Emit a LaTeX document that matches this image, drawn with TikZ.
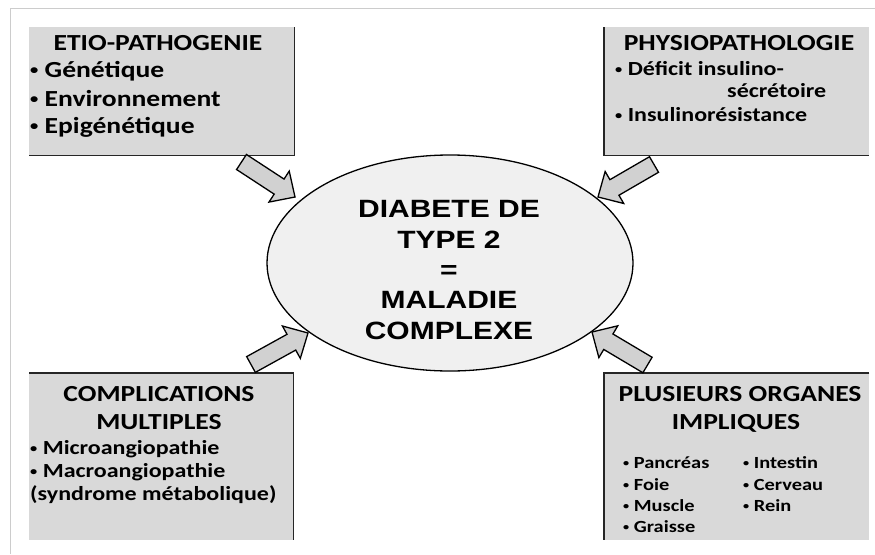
\documentclass[tikz,border=0pt]{standalone}
\usepackage{fontspec}
\setmainfont{Carlito}[FakeStretch=1.2]
\newfontfamily\ellfont{Liberation Sans}[FakeStretch=1.2]
\usetikzlibrary{calc,shapes.geometric}
\definecolor{boxgray}{gray}{0.85}
\definecolor{ellgray}{gray}{0.94}
\definecolor{arrgray}{gray}{0.82}
\definecolor{edgecol}{gray}{0.15}
\definecolor{framecol}{gray}{0.80}
\newcommand{\bul}{\raisebox{0.1em}{\scalebox{0.6}{\textbullet}}}
\tikzset{
  boxfill/.style={rectangle, fill=boxgray, draw=none, inner sep=0pt, anchor=north west},
  edge/.style={draw=edgecol, line width=1.6pt},
  arrowshape/.style={draw=black, fill=arrgray, line width=1.3pt, line join=miter},
  ttl/.style={font=\bfseries\fontsize{23}{28}\selectfont, anchor=base, inner sep=0pt},
  itm/.style={font=\bfseries\fontsize{#1}{24}\selectfont, anchor=base west, inner sep=0pt},
  itm/.default=20,
  ell/.style={font=\ellfont\bfseries\fontsize{25}{30}\selectfont, anchor=base, inner sep=0pt},
}
\newcommand{\blockarr}[3]{%
  \coordinate (#3) at ($(#2)!19pt!(#1)$);
  \draw[arrowshape] ($(#1)!9pt!90:(#2)$) -- ($(#3)!9pt!90:(#2)$) -- ($(#3)!18.5pt!90:(#2)$)
    -- (#2) -- ($(#3)!18.5pt!-90:(#2)$) -- ($(#3)!9pt!-90:(#2)$) -- ($(#1)!9pt!-90:(#2)$) -- cycle;
}
\begin{document}
\begin{tikzpicture}[x=1pt, y=-1pt]
\useasboundingbox (0,0) rectangle (875,554);
\fill[white] (0,0) rectangle (875,554);
% page frame
\draw[framecol, line width=1pt] (10,554) -- (10,8) -- (875,8);

% boxes
\node[boxfill, minimum width=265pt, minimum height=128pt] (b1) at (29,27) {};
\draw[edge] (b1.north east) -- (b1.south east) -- (b1.south west);
\node[boxfill, minimum width=265pt, minimum height=128pt] (b2) at (604,27) {};
\draw[edge] (b2.north west) -- (b2.south west) -- (b2.south east);
\node[boxfill, minimum width=264pt, minimum height=167pt] (b3) at (29,373) {};
\draw[edge] (b3.north west) -- (b3.north east) -- (b3.south east);
\node[boxfill, minimum width=265pt, minimum height=167pt] (b4) at (604,373) {};
\draw[edge] (b4.north east) -- (b4.north west) -- (b4.south west);

% ellipse
\node[ellipse, draw=black, line width=1.3pt, fill=ellgray, minimum width=366pt, minimum height=216pt, inner sep=0pt] (dt) at (450,263) {};
\node[ell] (e1) at (449,217) {DIABETE DE};
\node[ell] (e2) at (449,248) {TYPE 2};
\node[ell] (e3) at (449,278) {=};
\node[ell] (e4) at (449,308) {MALADIE};
\node[ell] (e5) at (449,339) {COMPLEXE};

% arrows
\coordinate (a1s) at (241.5,162);
\coordinate (a1e) at (295,197);
\coordinate (a2s) at (654,164.5);
\coordinate (a2e) at (598,197);
\coordinate (a3s) at (251,364.5);
\coordinate (a3e) at (308,333);
\coordinate (a4s) at (647.5,365);
\coordinate (a4e) at (592,332);
\blockarr{a1s}{a1e}{a1h}
\blockarr{a2s}{a2e}{a2h}
\blockarr{a3s}{a3e}{a3h}
\blockarr{a4s}{a4e}{a4h}

% box 1 texts
\node[ttl] (t1) at (158,50) {ETIO-PATHOGENIE};
\node[itm=23] (t1a) at (30,77) {\bul\ Génétique};
\node[itm=23] (t1b) at (30,106) {\bul\ Environnement};
\node[itm=23] (t1c) at (30,133) {\bul\ Epigénétique};

% box 2 texts
\node[ttl] (t2) at (739,50) {PHYSIOPATHOLOGIE};
\node[itm] (t2a) at (615,75) {\bul\ Déficit insulino-};
\node[itm] (t2b) at (727,97) {sécrétoire};
\node[itm] (t2c) at (615,121) {\bul\ Insulinorésistance};

% box 3 texts
\node[ttl] (t3) at (159,401) {COMPLICATIONS};
\node[ttl] (t3b) at (159,429) {MULTIPLES};
\node[itm] (t3c) at (30,454) {\bul\ Microangiopathie};
\node[itm] (t3d) at (30,477) {\bul\ Macroangiopathie};
\node[itm] (t3e) at (30,500) {(syndrome métabolique)};

% box 4 texts
\node[ttl] (t4) at (740,401) {PLUSIEURS ORGANES};
\node[ttl] (t4b) at (736,429) {IMPLIQUES};
\node[itm=17] (o1) at (623,468) {\bul\ Pancréas};
\node[itm=17] (o2) at (623,490) {\bul\ Foie};
\node[itm=17] (o3) at (623,511) {\bul\ Muscle};
\node[itm=17] (o4) at (623,532) {\bul\ Graisse};
\node[itm=17] (o5) at (743,468) {\bul\ Intestin};
\node[itm=17] (o6) at (743,490) {\bul\ Cerveau};
\node[itm=17] (o7) at (743,511) {\bul\ Rein};
\end{tikzpicture}
\end{document}
